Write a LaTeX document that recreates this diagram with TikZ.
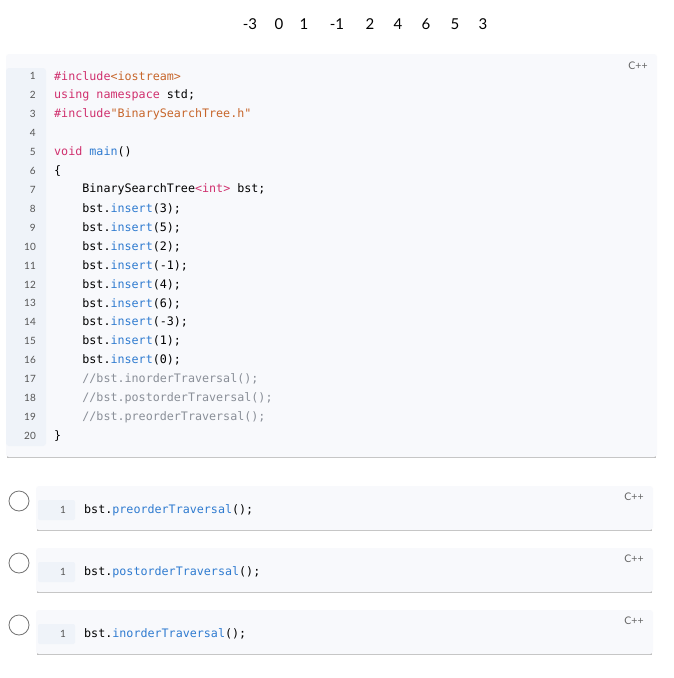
\documentclass[tikz,border=0pt]{standalone}
\usepackage{fontspec}
\setmainfont{Lato}
\newfontfamily\codefont{DejaVu Sans Mono}
\definecolor{kw}{HTML}{D0306E}
\definecolor{str}{HTML}{C7662B}
\definecolor{fn}{HTML}{2F7BD0}
\definecolor{cm}{HTML}{8A8F98}
\definecolor{boxbg}{HTML}{F8F9FC}
\definecolor{gut}{HTML}{EFF3F9}
\definecolor{lnc}{HTML}{555555}
\newcommand{\K}[1]{\textcolor{kw}{#1}}
\newcommand{\Sx}[1]{\textcolor{str}{#1}}
\newcommand{\F}[1]{\textcolor{fn}{#1}}
\newcommand{\Cm}[1]{\textcolor{cm}{#1}}
\begin{document}
\begin{tikzpicture}[x=1pt,y=-1pt,
  codebox/.style={fill=boxbg,rounded corners=3pt},
  shadowline/.style={draw=black!25,line width=1.2pt},
  code/.style={anchor=west,inner sep=0,font=\codefont\fontsize{11.7}{13}\selectfont},
  lnum/.style={anchor=east,inner sep=0,text=lnc,font=\fontsize{10}{12}\selectfont},
  lang/.style={anchor=center,inner sep=0,text=black!60,font=\fontsize{10.5}{12}\selectfont},
  digit/.style={inner sep=0,font=\fontsize{15}{17}\selectfont},
  radio/.style={circle,draw=black!55,line width=0.8pt,minimum size=20pt,inner sep=0}]
\useasboundingbox (0,0) rectangle (673,678);
\fill[white] (0,0) rectangle (673,678);
\foreach \x/\d [count=\k] in {250/-3,279/0,304/1,337/-1,370/2,398/4,426/6,455/5,483/3}
  \node[digit] (t\k) at (\x,24) {\d};
% main box
\draw[shadowline,rounded corners=3pt] (7,457) -- (656,457);
\fill[codebox] (6,54) rectangle (657,457);
\fill[gut,rounded corners=3pt] (6,68) rectangle (46,446);
\node[lang] (lang0) at (638,66) {C++};
\foreach \i in {1,...,20}{ \node[lnum] (ln\i) at (36,{76+(\i-1)*18.95}) {\i}; }
\def\L#1#2{\node[code] (c#1) at (54,{76+(#1-1)*18.95}) {#2};}
\L{1}{\K{\#include}\Sx{<iostream>}}
\L{2}{\K{using namespace} std;}
\L{3}{\K{\#include}\Sx{"BinarySearchTree.h"}}
\L{5}{\K{void} \F{main}()}
\L{6}{\{}
\L{7}{\ \ \ \ BinarySearchTree\K{<int>} bst;}
\L{8}{\ \ \ \ bst.\F{insert}(3);}
\L{9}{\ \ \ \ bst.\F{insert}(5);}
\L{10}{\ \ \ \ bst.\F{insert}(2);}
\L{11}{\ \ \ \ bst.\F{insert}(-1);}
\L{12}{\ \ \ \ bst.\F{insert}(4);}
\L{13}{\ \ \ \ bst.\F{insert}(6);}
\L{14}{\ \ \ \ bst.\F{insert}(-3);}
\L{15}{\ \ \ \ bst.\F{insert}(1);}
\L{16}{\ \ \ \ bst.\F{insert}(0);}
\L{17}{\ \ \ \ \Cm{//bst.inorderTraversal();}}
\L{18}{\ \ \ \ \Cm{//bst.postorderTraversal();}}
\L{19}{\ \ \ \ \Cm{//bst.preorderTraversal();}}
\L{20}{\}}
% options
\foreach \n/\y/\t in {a/0/preorderTraversal,b/62/postorderTraversal,c/124/inorderTraversal}{
  \node[radio] (r\n) at (19,{501+\y}) {};
  \draw[shadowline] (37,{530+\y}) -- (652,{530+\y});
  \fill[codebox] (36,{486+\y}) rectangle (653,{530+\y});
  \fill[gut,rounded corners=2pt] (38,{500+\y}) rectangle (75,{520+\y});
  \node[lang] (l\n) at (634,{497+\y}) {C++};
  \node[lnum] (n\n) at (66,{510+\y}) {1};
  \node[code] (o\n) at (84,{510+\y}) {bst.\F{\t}();};
}
\end{tikzpicture}
\end{document}
